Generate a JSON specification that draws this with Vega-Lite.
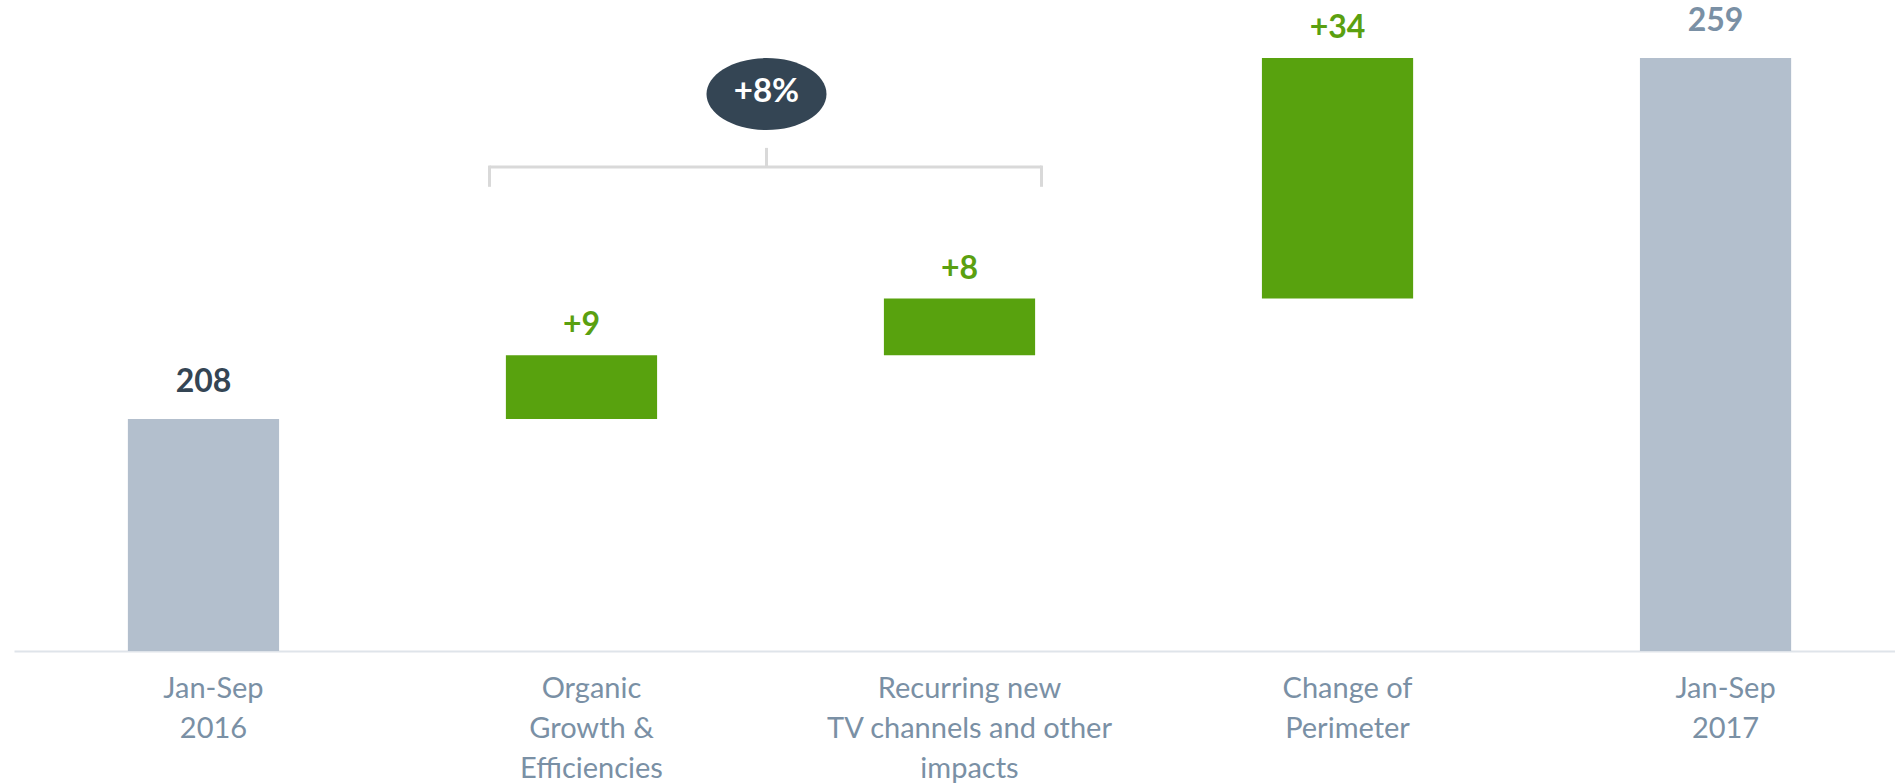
{
  "$schema": "https://vega.github.io/schema/vega-lite/v6.json",
  "autosize": "none",
  "width": 1881,
  "height": 651,
  "padding": {"left": 14, "top": 0, "right": 0, "bottom": 132},
  "background": "white",
  "config": {"view": {"stroke": null}},
  "data": {"values": [
    {"cat": "Jan-Sep|2016", "start": 0, "end": 208, "label": "208", "kind": "start"},
    {"cat": "Organic|Growth &|Efficiencies", "start": 208, "end": 217, "label": "+9", "kind": "delta"},
    {"cat": "Recurring new|TV channels and other|impacts", "start": 217, "end": 225, "label": "+8", "kind": "delta"},
    {"cat": "Change of|Perimeter", "start": 225, "end": 259, "label": "+34", "kind": "delta"},
    {"cat": "Jan-Sep|2017", "start": 0, "end": 259, "label": "259", "kind": "end"}
  ]},
  "encoding": {
    "x": {
      "field": "cat", "type": "nominal", "sort": null,
      "scale": {
        "domain": ["Jan-Sep|2016", "Organic|Growth &|Efficiencies", "Recurring new|TV channels and other|impacts", "Change of|Perimeter", "Jan-Sep|2017"],
        "paddingInner": 0.6, "paddingOuter": 0.288, "align": 0.523
      },
      "axis": {
        "title": null, "labelAngle": 0, "ticks": false, "domain": true,
        "domainColor": "#dfe4ea", "domainWidth": 2, "labelPadding": 23,
        "labelFont": "Lato", "labelFontSize": 29, "labelColor": "#7a90a5",
        "labelLineHeight": 40, "labelBaseline": "top", "labelLimit": 0,
        "labelOffset": 10,
        "labelExpr": "split(datum.value, '|')"
      }
    }
  },
  "layer": [
    {
      "mark": {"type": "bar", "clip": true},
      "encoding": {
        "y": {"field": "end", "type": "quantitative", "scale": {"domain": [175.2, 267.2], "zero": false, "nice": false}, "axis": null},
        "y2": {"field": "start"},
        "color": {"condition": {"test": "datum.kind === 'delta'", "value": "#58a20e"}, "value": "#b3bfcd"}
      }
    },
    {
      "transform": [{"filter": "datum.kind === 'delta'"}],
      "mark": {"type": "text", "font": "Lato", "fontWeight": "bold", "fontSize": 32, "baseline": "alphabetic", "dy": -20, "color": "#5aa010"},
      "encoding": {
        "y": {"field": "end", "type": "quantitative"},
        "text": {"field": "label"}
      }
    },
    {
      "transform": [{"filter": "datum.kind !== 'delta'"}],
      "mark": {"type": "text", "font": "Lato", "fontWeight": "bold", "fontSize": 32, "baseline": "alphabetic", "dy": -27},
      "encoding": {
        "y": {"field": "end", "type": "quantitative"},
        "text": {"field": "label"},
        "color": {"condition": {"test": "datum.kind === 'start'", "value": "#344554"}, "value": "#7a90a5"}
      }
    },
    {
      "data": {"values": [{"note": "+8%"}]},
      "mark": {"type": "rule", "color": "#d9d9d9", "strokeWidth": 3, "xOffset": -92, "x2Offset": 82},
      "encoding": {
        "x": {"datum": "Organic|Growth &|Efficiencies"},
        "x2": {"datum": "Recurring new|TV channels and other|impacts"},
        "y": {"datum": 243.6}
      }
    },
    {
      "data": {"values": [{"note": "+8%"}]},
      "mark": {"type": "rule", "color": "#d9d9d9", "strokeWidth": 3, "xOffset": -92},
      "encoding": {
        "x": {"datum": "Organic|Growth &|Efficiencies"},
        "y": {"datum": 243.8},
        "y2": {"datum": 240.8}
      }
    },
    {
      "data": {"values": [{"note": "+8%"}]},
      "mark": {"type": "rule", "color": "#d9d9d9", "strokeWidth": 3, "xOffset": 82},
      "encoding": {
        "x": {"datum": "Recurring new|TV channels and other|impacts"},
        "y": {"datum": 243.8},
        "y2": {"datum": 240.8}
      }
    },
    {
      "data": {"values": [{"note": "+8%"}]},
      "mark": {"type": "rule", "color": "#d9d9d9", "strokeWidth": 3, "xOffset": 185},
      "encoding": {
        "x": {"datum": "Organic|Growth &|Efficiencies"},
        "y": {"datum": 246.3},
        "y2": {"datum": 243.6}
      }
    },
    {
      "data": {"values": [{"note": "+8%"}]},
      "mark": {"type": "point", "filled": true, "opacity": 1, "color": "#344554", "size": 14400, "xOffset": 185,
        "shape": "M -1 0 A 1 0.6 0 1 1 1 0 A 1 0.6 0 1 1 -1 0 Z"},
      "encoding": {
        "x": {"datum": "Organic|Growth &|Efficiencies"},
        "y": {"datum": 253.9}
      }
    },
    {
      "data": {"values": [{"note": "+8%"}]},
      "mark": {"type": "text", "font": "Lato", "fontWeight": "bold", "fontSize": 33, "color": "white", "baseline": "middle", "xOffset": 185},
      "encoding": {
        "x": {"datum": "Organic|Growth &|Efficiencies"},
        "y": {"datum": 254.2},
        "text": {"field": "note"}
      }
    }
  ]
}
